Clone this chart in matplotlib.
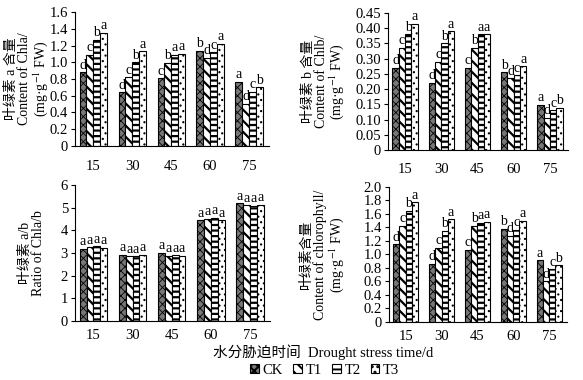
import numpy as np
import matplotlib.pyplot as plt
from matplotlib.patches import Patch

plt.rcParams['font.family'] = ['Liberation Serif', 'Noto Sans CJK SC']
plt.rcParams['mathtext.fontset'] = 'stix'
plt.rcParams['hatch.linewidth'] = 1.4

days = ['15', '30', '45', '60', '75']
treat = ['CK', 'T1', 'T2', 'T3']

# Chla content, rows = treatments, cols = days
chla = [[0.88, 0.64, 0.81, 1.14, 0.77],
        [1.09, 0.82, 0.99, 1.05, 0.50],
        [1.27, 1.00, 1.09, 1.12, 0.65],
        [1.35, 1.13, 1.10, 1.22, 0.70]]
chlb = [[0.270, 0.220, 0.270, 0.255, 0.148],
        [0.335, 0.290, 0.335, 0.235, 0.105],
        [0.380, 0.350, 0.380, 0.245, 0.130],
        [0.415, 0.390, 0.380, 0.275, 0.138]]
ratio = [[3.18, 2.92, 3.00, 4.45, 5.20],
         [3.25, 2.85, 2.88, 4.50, 5.10],
         [3.30, 2.85, 2.90, 4.55, 5.08],
         [3.22, 2.92, 2.88, 4.45, 5.12]]
total = [[1.15, 0.86, 1.07, 1.38, 0.91],
         [1.42, 1.10, 1.42, 1.28, 0.60],
         [1.65, 1.35, 1.47, 1.36, 0.78],
         [1.77, 1.52, 1.48, 1.50, 0.84]]

# significance letters, rows = treatments
letters_abc = [['d', 'd', 'c', 'b', 'a'],
               ['c', 'c', 'b', 'd', 'd'],
               ['b', 'b', 'a', 'c', 'c'],
               ['a', 'a', 'a', 'a', 'b']]
letters_ratio = [['a'] * 5 for _ in range(4)]

styles = [dict(facecolor='#777777', hatch='xxxx'),
          dict(facecolor='white', hatch='\\\\\\'),
          dict(facecolor='white', hatch='---'),
          dict(facecolor='white', hatch='...')]
hatch_lw = [0.6, 1.6, 1.6, 0.8]
per_artist = hasattr(Patch, 'set_hatch_linewidth')

# data, letters, axes rect, ymax, step, tick format, ylabel, x tick pad, ylabel x (axes fraction)
panels = [
    (chla, letters_abc, [0.1286, 0.616, 0.332, 0.352], 1.6, 0.2, '{:.1f}',
     '叶绿素 a 含量\nContent of Chla/\n(mg·g$^{-1}$ FW)', 10, -0.245),
    (chlb, letters_abc, [0.6655, 0.605, 0.309, 0.361], 0.45, 0.05, '{:.2f}',
     '叶绿素 b 含量\nContent of Chlb/\n(mg·g$^{-1}$ FW)', 9, -0.355),
    (ratio, letters_ratio, [0.1286, 0.155, 0.334, 0.358], 6, 1, '{:.0f}',
     '叶绿素 a/b\nRatio of Chla/b', 6, -0.22),
    (total, letters_abc, [0.667, 0.153, 0.3055, 0.355], 2.0, 0.2, '{:.1f}',
     '叶绿素含量\nContent of chlorophyll/\n(mg·g$^{-1}$ FW)', 6, -0.37),
]

fig = plt.figure(figsize=(5.83, 3.8), dpi=100)
x = np.arange(len(days))
w = 0.175

for data, letters, pos, ymax, step, fmt, ylab, xpad, labx in panels:
    ax = fig.add_axes(pos)
    for i in range(4):
        xs = x + (i - 1.5) * w
        bars = ax.bar(xs, data[i], width=w, edgecolor='black', linewidth=0.8, **styles[i])
        if per_artist:
            for b in bars:
                b.set_hatch_linewidth(hatch_lw[i])
        for xi, v, lab in zip(xs, data[i], letters[i]):
            ax.text(xi, v + ymax * 0.005, lab, ha='center', va='bottom', fontsize=10)
    ticks = np.arange(0, ymax + step / 2, step)
    ax.set_yticks(ticks)
    ax.set_yticklabels(['0'] + [fmt.format(t) for t in ticks[1:]], fontsize=10.5)
    ax.set_ylim(0, ymax)
    ax.set_xlim(-0.47, 4.5)
    ax.set_xticks(x)
    ax.set_xticklabels(days, fontsize=10.5)
    ax.tick_params(axis='x', length=0, pad=xpad)
    ax.tick_params(axis='y', length=3, width=0.8, pad=2)
    ax.spines['top'].set_visible(False)
    ax.spines['right'].set_visible(False)
    ax.set_ylabel(ylab, fontsize=10, linespacing=1.0)
    ax.yaxis.label.set_va('center')
    ax.yaxis.set_label_coords(labx, 0.5)

fig.text(0.555, 0.074, '水分胁迫时间  Drought stress time/d', ha='center', va='center', fontsize=10.5)
handles = []
for s, lw in zip(styles, hatch_lw):
    p = Patch(edgecolor='black', linewidth=0.8, **s)
    if per_artist:
        p.set_hatch_linewidth(lw)
    handles.append(p)
fig.legend(handles, treat, loc='center', bbox_to_anchor=(0.557, 0.026), ncol=4, frameon=False,
           fontsize=10.5, handlelength=0.6, handleheight=0.6, handletextpad=0.25, columnspacing=0.7,
           borderpad=0)

fig.savefig('out.png', dpi=100)
